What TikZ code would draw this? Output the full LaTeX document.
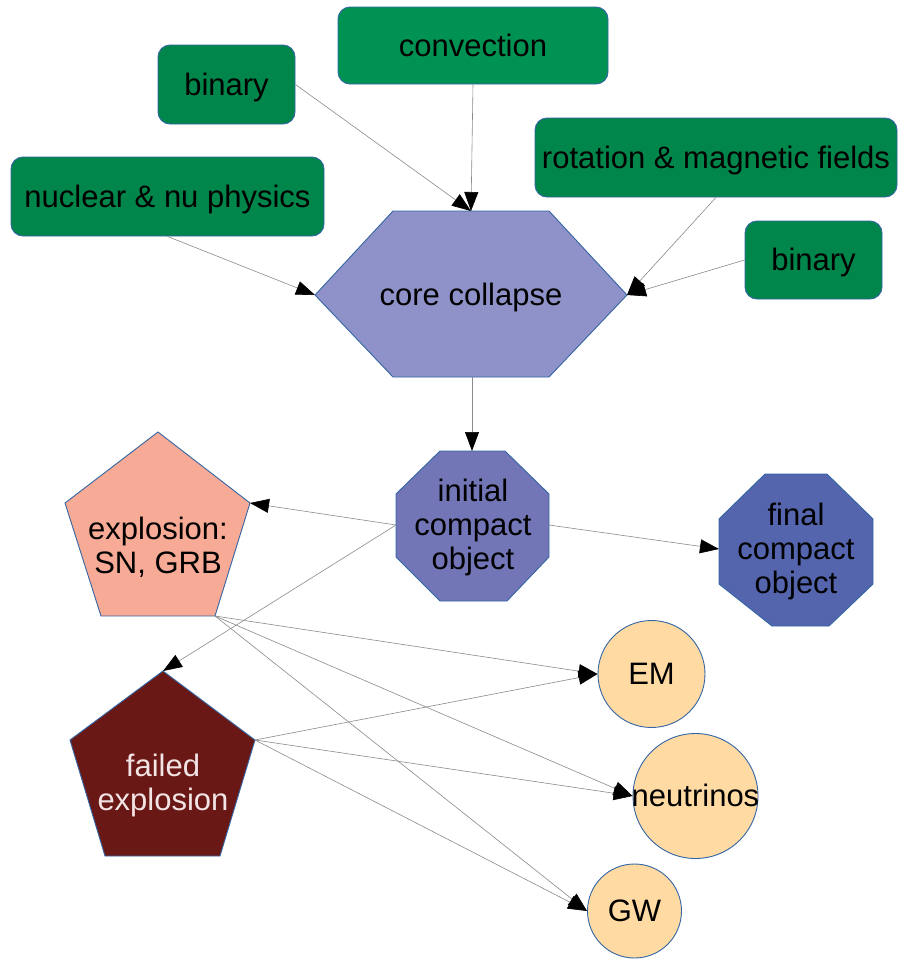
\documentclass[tikz,border=0pt]{standalone}
\usepackage{fontspec}
\setmainfont{Liberation Sans}
\usetikzlibrary{arrows.meta}
\definecolor{gconv}{HTML}{009252}
\definecolor{gdark}{HTML}{00854A}
\definecolor{edgeblue}{HTML}{3465A4}
\definecolor{hexc}{HTML}{8E92C8}
\definecolor{inic}{HTML}{7275B6}
\definecolor{finc}{HTML}{5465AE}
\definecolor{explc}{HTML}{F7AA95}
\definecolor{failc}{HTML}{6A1815}
\definecolor{failtext}{HTML}{F2E4E4}
\definecolor{cpeach}{HTML}{FFDBA3}
\definecolor{linegray}{HTML}{8A8A8A}
\begin{document}
\begin{tikzpicture}[x=1pt,y=-1pt,
  box/.style={draw=edgeblue, line width=0.9pt, rounded corners=12pt, fill=gdark, inner sep=0pt, font=\fontsize{31}{34}\selectfont, text=black, text height=28pt, text depth=6.6pt},
  shp/.style={draw=edgeblue, line width=0.9pt},
  lbl/.style={align=center, font=\fontsize{31}{34}\selectfont, inner sep=0pt},
  lblone/.style={font=\fontsize{31}{34}\selectfont, inner sep=0pt, text height=28pt, text depth=6.6pt},
  circ/.style={circle, draw=edgeblue, line width=0.9pt, fill=cpeach, inner sep=0pt},
  conn/.style={draw=linegray, line width=0.6pt, -{Triangle[length=19pt,width=14pt,color=black]}}
]
\useasboundingbox (0,0) rectangle (898,959);

% green boxes
\node[box, fill=gconv, minimum width=270pt, minimum height=77pt] (conv) at (473,45.5) {convection};
\node[box, minimum width=137pt, minimum height=79pt] (bin1) at (226.5,84.5) {binary};
\node[box, minimum width=313pt, minimum height=79pt] (nuc) at (167.5,196.5) {nuclear \& nu physics};
\node[box, minimum width=362pt, minimum height=79pt] (rot) at (716,157.5) {rotation \& magnetic fields};
\node[box, minimum width=137pt, minimum height=78pt] (bin2) at (813.5,260) {binary};

% core collapse hexagon
\coordinate (coreL) at (315,295);
\coordinate (coreT) at (471,211);
\coordinate (coreR) at (627,295);
\coordinate (coreB) at (472,377);
\draw[shp, fill=hexc] (315,295) -- (393,211) -- (549,211) -- (627,295) -- (549,377) -- (393,377) -- cycle;
\node[lblone] (core) at (471,295) {core collapse};

% initial compact object
\coordinate (iniT) at (472,451);
\coordinate (iniL) at (396,525);
\coordinate (iniR) at (549,525);
\draw[shp, fill=inic] (440,451) -- (505,451) -- (549,494) -- (549,557) -- (507,601) -- (440,601) -- (396,557) -- (396,494) -- cycle;
\node[lbl] (ini) at (473,527) {initial\\compact\\object};

% final compact object
\coordinate (finL) at (719,549);
\draw[shp, fill=finc] (765,474) -- (827,474) -- (873,519) -- (873,584) -- (829,626) -- (772,626) -- (719,584) -- (719,519) -- cycle;
\node[lbl] (fin) at (796,551) {final\\compact\\object};

% explosion pentagon
\coordinate (explR) at (250,503);
\coordinate (explBR) at (215,616);
\draw[shp, fill=explc] (158,432) -- (250,503) -- (215,616) -- (101,616) -- (65,503) -- cycle;
\node[lbl] (expl) at (158,547) {explosion:\\SN, GRB};

% failed explosion pentagon
\coordinate (failT) at (163,671);
\coordinate (failR) at (255,740);
\draw[shp, fill=failc] (163,671) -- (255,740) -- (220,856) -- (105,856) -- (70,740) -- cycle;
\node[lbl, text=failtext] (fail) at (163,785) {failed\\explosion};

% messengers
\node[circ, minimum size=107pt] (em) at (651.5,674) {};
\node[lblone] at (em) {EM};
\node[circ, minimum size=125pt] (nu) at (695.5,796) {};
\node[lblone] at (nu) {neutrinos};
\node[circ, minimum size=94pt] (gw) at (634.5,911) {};
\node[lblone] at (gw) {GW};

% connectors
\draw[conn] (bin1.east) -- (coreT);
\draw[conn] (conv.south) -- (coreT);
\draw[conn] (nuc.south) -- (coreL);
\draw[conn] (rot.south) -- (coreR);
\draw[conn] (bin2.west) -- (coreR);
\draw[conn] (coreB) -- (iniT);
\draw[conn] (iniL) -- (explR);
\draw[conn] (iniL) -- (failT);
\draw[conn] (iniR) -- (finL);
\draw[conn] (explBR) -- (em.west);
\draw[conn] (explBR) -- (nu.west);
\draw[conn] (explBR) -- (gw.west);
\draw[conn] (failR) -- (em.west);
\draw[conn] (failR) -- (nu.west);
\draw[conn] (failR) -- (gw.west);
\end{tikzpicture}
\end{document}
